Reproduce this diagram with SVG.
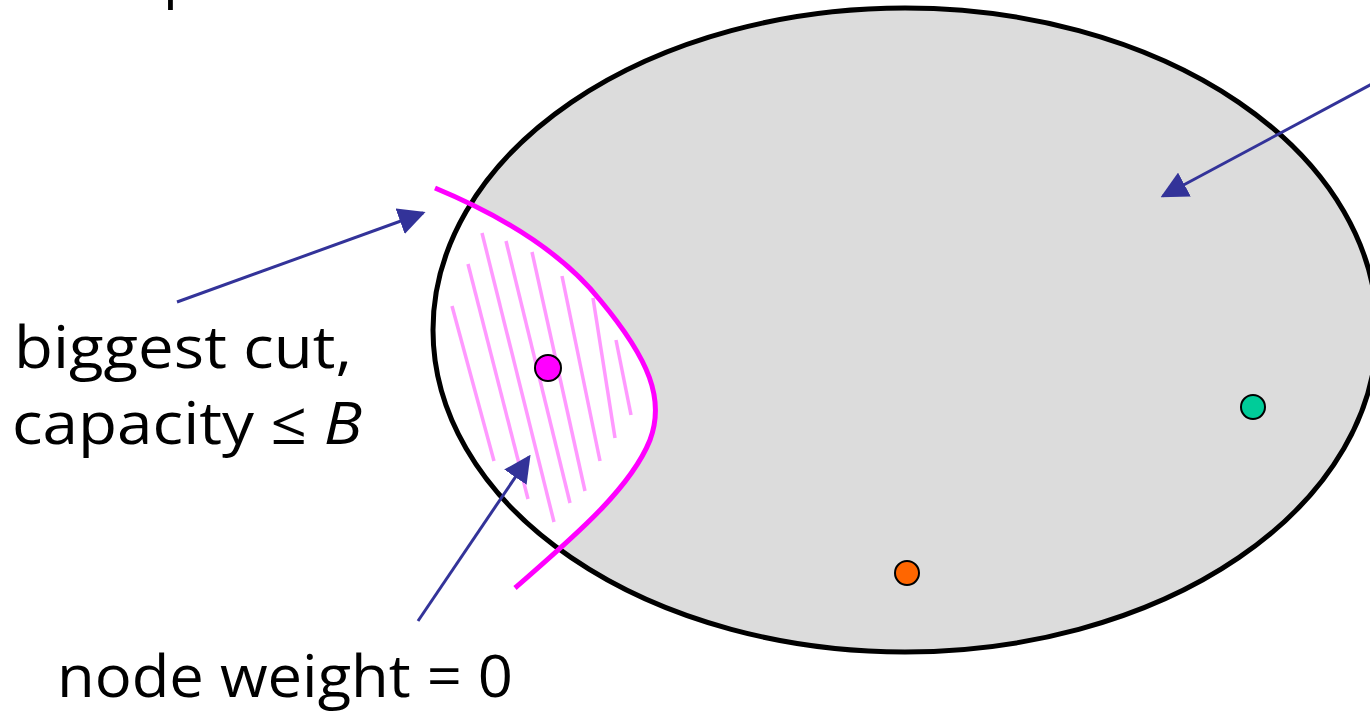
<svg xmlns="http://www.w3.org/2000/svg" width="1370" height="715" viewBox="0 0 1370 715">
<style>
.lbl{font-family:"Open Sans","DejaVu Sans",sans-serif;font-size:59px;fill:#000}
.arr{stroke:#333399;stroke-width:3;fill:none}
.hatch{stroke:#ff99ff;stroke-width:3.5}
.node{stroke:#000;stroke-width:2}
</style>
<defs>
<marker id="ah" viewBox="0 0 10 10" refX="9" refY="5" markerWidth="9" markerHeight="9" markerUnits="strokeWidth" orient="auto">
<path d="M0,0 L10,5 L0,10 Z" fill="#333399"/>
</marker>
<clipPath id="ellClip"><ellipse cx="905" cy="330" rx="472" ry="322"/></clipPath>
</defs>
<rect width="1370" height="715" fill="#fff"/>
<text class="lbl" x="163" y="-4">p</text>
<g id="region">
<ellipse cx="905" cy="330" rx="472" ry="322" fill="#dcdcdc"/>
<path clip-path="url(#ellClip)" d="M435,188 C500,215 560,250 600,300 C650,360 665,400 650,440 C630,490 570,540 515,588 L300,588 L300,188 Z" fill="#fff"/>
<g class="hatch">
<line x1="452" y1="306" x2="494" y2="461"/>
<line x1="468" y1="264" x2="528" y2="499"/>
<line x1="482" y1="233" x2="554" y2="522"/>
<line x1="506" y1="241" x2="570" y2="503"/>
<line x1="532" y1="252" x2="585" y2="491"/>
<line x1="562" y1="276" x2="600" y2="461"/>
<line x1="593" y1="298" x2="615" y2="438"/>
<line x1="616" y1="340" x2="631" y2="415"/>
</g>
<ellipse cx="905" cy="330" rx="472" ry="322" fill="none" stroke="#000" stroke-width="5"/>
</g>
<g id="cut">
<path d="M435,188 C500,215 560,250 600,300 C650,360 665,400 650,440 C630,490 570,540 515,588" fill="none" stroke="#ff00ff" stroke-width="5"/>
</g>
<g id="node-magenta"><circle class="node" cx="548" cy="368" r="13" fill="#ff00ff"/></g>
<g id="node-green"><circle class="node" cx="1253" cy="407" r="12" fill="#00cc99"/></g>
<g id="node-orange"><circle class="node" cx="907" cy="573" r="12" fill="#ff6600"/></g>
<g id="connectors">
<line class="arr" x1="177" y1="302" x2="423" y2="213" marker-end="url(#ah)"/>
<line class="arr" x1="1372" y1="84" x2="1163" y2="196" marker-end="url(#ah)"/>
<line class="arr" x1="418" y1="621" x2="529" y2="457" marker-end="url(#ah)"/>
</g>
<g id="label-cut">
<text class="lbl" x="14" y="368" textLength="338" lengthAdjust="spacingAndGlyphs">biggest cut,</text>
<text class="lbl" x="12" y="444" textLength="350" lengthAdjust="spacingAndGlyphs">capacity ≤ <tspan font-style="italic">B</tspan></text>
</g>
<g id="label-weight">
<text class="lbl" x="57" y="697" textLength="456" lengthAdjust="spacingAndGlyphs">node weight = 0</text>
</g>
</svg>
